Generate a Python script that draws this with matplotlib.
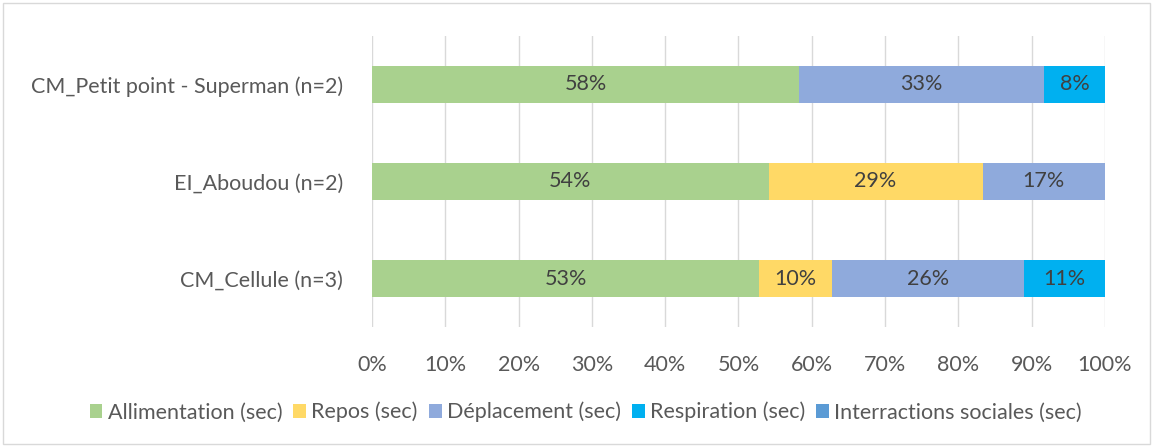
import numpy as np
import matplotlib.pyplot as plt
from matplotlib.patches import Rectangle

plt.rcParams['font.family'] = ['Lato', 'DejaVu Sans']

categories = ['CM_Cellule (n=3)', 'EI_Aboudou (n=2)', 'CM_Petit point - Superman (n=2)']
series = ['Allimentation (sec)', 'Repos (sec)', 'Déplacement (sec)',
          'Respiration (sec)', 'Interractions sociales (sec)']
colors = ['#A9D18E', '#FFD966', '#8FAADC', '#00B0F0', '#5B9BD5']

allimentation = [52.8, 54.1, 58.3]
repos = [10.0, 29.2, 0.0]
deplacement = [26.1, 16.7, 33.4]
respiration = [11.1, 0.0, 8.3]
interactions = [0.0, 0.0, 0.0]
values = [allimentation, repos, deplacement, respiration, interactions]

fig = plt.figure(figsize=(11.53, 4.46), dpi=100)
ax = fig.add_axes([0.3226, 0.2668, 0.6358, 0.6525])
fig.patches.append(Rectangle((0.003, 0.004), 0.994, 0.99, transform=fig.transFigure,
                             fill=False, edgecolor='#D9D9D9', lw=1))

y = np.arange(len(categories))
left = np.zeros(len(categories))
for name, vals, c in zip(series, values, colors):
    vals = np.array(vals) / 100
    ax.barh(y, vals, left=left, height=0.39, color=c, label=name, zorder=3)
    for yi, l, v in zip(y, left, vals):
        if v > 0:
            ax.text(l + v / 2, yi, f'{v * 100:.0f}%', ha='center', va='center',
                    fontsize=15.5, color='#404040', zorder=4)
    left += vals

ax.set_xlim(0, 1)
ax.set_ylim(-0.5, 2.5)
ax.set_xticks(np.linspace(0, 1, 11))
ax.set_xticklabels([f'{i}%' for i in range(0, 101, 10)])
ax.set_yticks(y)
ax.set_yticklabels(categories)
ax.tick_params(axis='both', length=0, labelsize=15.5, labelcolor='#595959')
ax.tick_params(axis='x', pad=20)
ax.tick_params(axis='y', pad=21)
ax.grid(axis='x', color='#D9D9D9', lw=1, zorder=0)
for s in ax.spines.values():
    s.set_visible(False)

fig.legend(loc='center', bbox_to_anchor=(0.508, 0.076), ncol=5, frameon=False,
           fontsize=15.5, labelcolor='#595959', handlelength=0.6, handleheight=0.6,
           handletextpad=0.25, columnspacing=0.5)

plt.savefig('out.png', dpi=100)
